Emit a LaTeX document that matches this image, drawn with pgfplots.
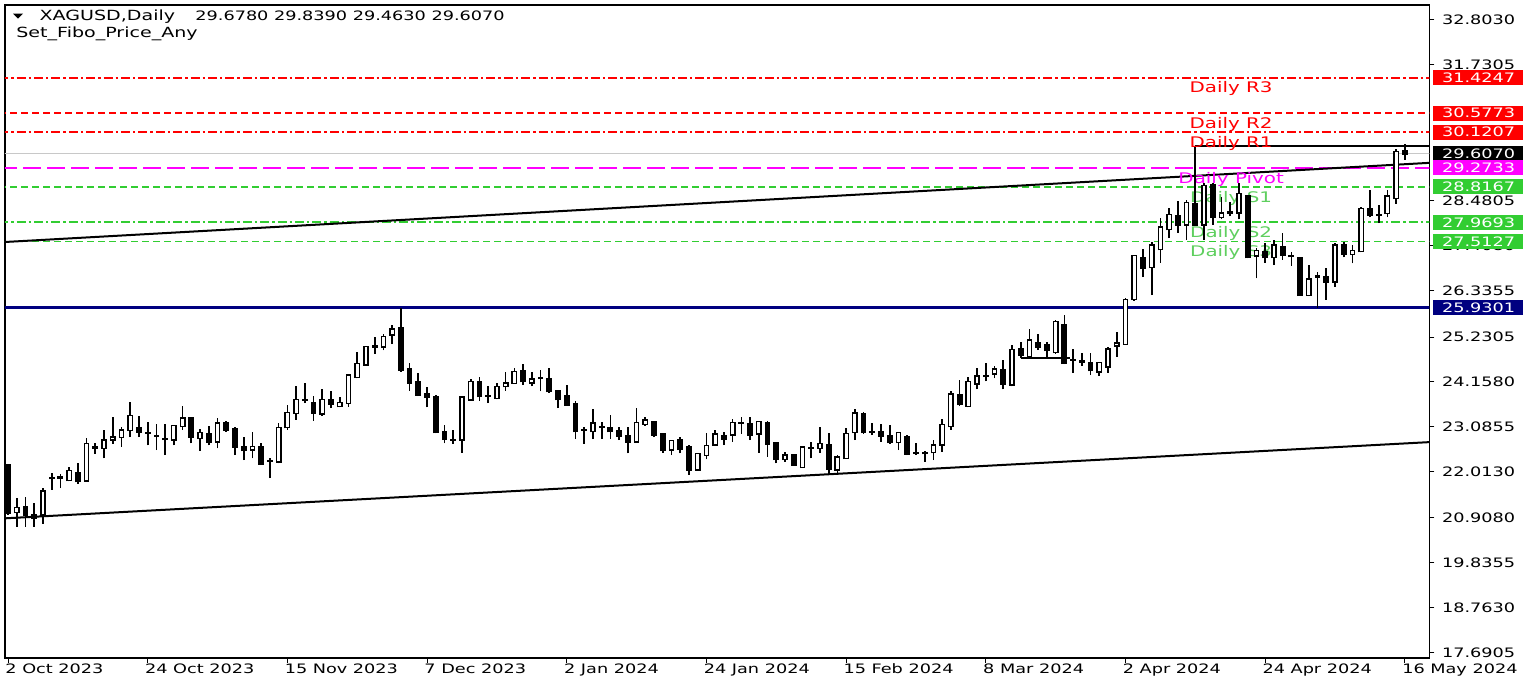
\documentclass[border=0pt]{standalone}
\usepackage{pgfplots}
\pgfplotsset{compat=1.18}
\usepackage{pgfplotstable}
\usepackage{graphicx}
\usepackage{fontspec}
\setmainfont{DejaVu Sans}
\newcommand\sx[1]{\scalebox{1.36}[1]{#1}}
\newcommand\fs{\fontsize{6.5pt}{7.8pt}\selectfont}
\newcommand\fh{\fontsize{7pt}{8.4pt}\selectfont}
\newcommand\fl{\fontsize{7.3pt}{8.8pt}\selectfont}
\definecolor{mtred}{HTML}{FF0000}
\definecolor{mtmag}{HTML}{FF00FF}
\definecolor{mtgreen}{HTML}{32CD32}
\definecolor{mtgtext}{HTML}{5FCF5F}
\definecolor{mtnavy}{HTML}{000080}
\definecolor{mtgray}{HTML}{C8C8C8}
\tikzset{box/.style={anchor=west, inner xsep=4.5pt, inner ysep=0pt, minimum height=7.5pt, text width=36pt, align=left, text=white, font=\fs}}

\pgfplotstableread{
i O H L C
0 22.17 22.18 20.98 21.02
1 21.04 21.38 20.70 21.16
2 21.18 21.40 20.70 20.98
3 20.98 21.27 20.70 20.90
4 20.98 21.62 20.77 21.55
5 21.85 21.99 21.58 21.87
6 21.87 21.97 21.62 21.88
7 21.80 22.12 21.78 22.04
8 21.99 22.21 21.72 21.78
9 21.79 22.81 21.79 22.68
10 22.58 22.71 22.44 22.60
11 22.57 23.01 22.33 22.77
12 22.77 23.31 22.68 22.84
13 22.84 23.09 22.61 23.01
14 23.00 23.69 22.84 23.35
15 23.05 23.35 22.84 22.96
16 22.95 23.21 22.64 22.94
17 22.88 23.15 22.53 22.87
18 22.80 23.15 22.41 22.79
19 22.77 23.13 22.64 23.11
20 23.09 23.59 23.01 23.29
21 23.29 23.30 22.69 22.84
22 22.81 23.03 22.52 22.95
23 22.92 23.11 22.64 22.72
24 22.73 23.29 22.57 23.17
25 23.19 23.23 22.97 23.00
26 23.03 23.07 22.41 22.61
27 22.61 22.84 22.29 22.52
28 22.53 22.97 22.33 22.61
29 22.61 22.71 22.17 22.20
30 22.28 22.33 21.86 22.27
31 22.25 23.17 22.21 23.07
32 23.07 23.61 23.01 23.42
33 23.41 24.06 23.25 23.73
34 23.73 24.13 23.65 23.72
35 23.65 23.81 23.23 23.42
36 23.39 23.98 23.35 23.73
37 23.73 23.93 23.53 23.63
38 23.57 23.79 23.55 23.66
39 23.65 24.32 23.57 24.32
40 24.27 24.88 24.24 24.60
41 24.56 25.00 24.54 25.00
42 25.00 25.22 24.83 25.01
43 24.99 25.30 24.91 25.24
44 25.28 25.52 25.06 25.42
45 25.44 25.92 24.40 24.44
46 24.48 24.62 23.95 24.14
47 24.17 24.36 23.82 23.85
48 23.87 24.03 23.55 23.79
49 23.81 23.85 22.93 22.95
50 22.97 23.13 22.69 22.79
51 22.78 23.01 22.68 22.77
52 22.77 23.81 22.47 23.79
53 23.73 24.22 23.71 24.17
54 24.17 24.28 23.71 23.81
55 23.83 24.05 23.65 23.82
56 23.77 24.14 23.74 24.05
57 24.05 24.40 23.95 24.13
58 24.13 24.48 24.11 24.40
59 24.43 24.59 24.09 24.17
60 24.14 24.40 24.05 24.22
61 24.25 24.44 23.93 24.24
62 24.24 24.48 23.90 23.93
63 23.95 23.95 23.53 23.74
64 23.82 24.09 23.61 23.61
65 23.63 23.71 22.79 22.97
66 23.02 23.07 22.68 23.01
67 22.97 23.50 22.79 23.17
68 23.09 23.21 22.79 23.08
69 23.07 23.37 22.79 22.97
70 23.00 23.09 22.77 22.87
71 22.88 23.07 22.45 22.73
72 22.73 23.53 22.73 23.19
73 23.15 23.31 23.11 23.25
74 23.21 23.21 22.84 22.89
75 22.92 22.92 22.47 22.52
76 22.53 22.77 22.41 22.76
77 22.77 22.85 22.45 22.55
78 22.61 22.65 21.94 22.06
79 22.06 22.45 22.04 22.44
80 22.41 22.93 22.31 22.63
81 22.65 23.01 22.63 22.91
82 22.87 22.97 22.65 22.80
83 22.89 23.27 22.73 23.19
84 23.18 23.31 22.92 23.19
85 23.15 23.31 22.77 22.89
86 22.92 23.23 22.47 23.21
87 23.19 23.23 22.37 22.68
88 22.71 22.73 22.21 22.31
89 22.31 22.49 22.25 22.41
90 22.41 22.41 22.17 22.17
91 22.12 22.61 22.10 22.60
92 22.57 22.73 22.33 22.58
93 22.57 23.07 22.47 22.69
94 22.65 22.93 21.94 22.07
95 22.06 22.41 21.94 22.36
96 22.33 23.05 22.33 22.92
97 22.95 23.50 22.77 23.41
98 23.39 23.45 22.92 22.95
99 22.97 23.17 22.89 22.96
100 22.97 23.15 22.73 22.87
101 22.87 23.13 22.68 22.71
102 22.71 22.97 22.53 22.95
103 22.85 22.89 22.41 22.44
104 22.47 22.69 22.41 22.46
105 22.46 22.52 22.25 22.45
106 22.47 22.77 22.29 22.65
107 22.65 23.27 22.49 23.14
108 23.09 23.93 23.01 23.87
109 23.85 24.21 23.59 23.62
110 23.58 24.27 23.55 24.17
111 24.11 24.48 23.98 24.30
112 24.30 24.62 24.17 24.29
113 24.35 24.54 24.24 24.46
114 24.44 24.67 23.98 24.11
115 24.09 25.04 24.05 24.93
116 24.96 25.12 24.72 24.80
117 24.76 25.41 24.75 25.16
118 25.10 25.30 24.92 25.00
119 25.04 25.12 24.76 24.91
120 24.86 25.64 24.83 25.60
121 25.52 25.76 24.58 24.60
122 24.69 24.94 24.38 24.68
123 24.65 24.86 24.54 24.64
124 24.62 24.86 24.32 24.43
125 24.40 24.64 24.30 24.62
126 24.52 24.99 24.38 24.94
127 25.02 25.36 24.76 25.08
128 25.06 26.16 25.04 26.13
129 26.13 27.19 26.10 27.17
130 27.11 27.33 26.66 26.87
131 26.90 27.50 26.23 27.43
132 27.32 28.07 27.00 27.85
133 27.80 28.30 27.59 28.15
134 28.12 28.49 27.72 27.91
135 27.91 28.50 27.55 28.44
136 28.41 29.78 27.88 27.91
137 27.91 28.90 27.55 28.84
138 28.86 28.92 27.91 28.09
139 28.09 28.58 28.04 28.19
140 28.20 28.46 28.11 28.21
141 28.20 28.92 28.04 28.66
142 28.60 28.62 27.11 27.13
143 27.17 27.35 26.63 27.29
144 27.27 27.47 27.01 27.13
145 27.13 27.55 26.95 27.43
146 27.39 27.71 27.07 27.19
147 27.16 27.27 26.93 27.15
148 27.11 27.13 26.22 26.23
149 26.23 26.95 26.21 26.61
150 26.67 26.79 25.93 26.68
151 26.67 26.87 26.12 26.55
152 26.55 27.47 26.43 27.43
153 27.43 27.51 27.13 27.21
154 27.21 27.43 26.99 27.29
155 27.27 28.33 27.25 28.30
156 28.30 28.74 28.09 28.15
157 28.15 28.38 27.95 28.14
158 28.19 28.73 28.09 28.60
159 28.54 29.71 28.41 29.66
160 29.678 29.839 29.463 29.607
}\candles

\begin{document}
\begin{tikzpicture}
\path[use as bounding box] (-2.5pt,-9.5pt) rectangle (764pt,329pt);
\begin{axis}[
  at={(0pt,0pt)}, anchor=south west,
  scale only axis, width=712.15pt, height=326.5pt,
  xmin=-0.344, xmax=162.8, ymin=17.564, ymax=33.160,
  axis line style={line width=0.7pt, black},
  tick style={line width=0.5pt, black},
  tick align=outside, major tick length=2.5pt,
  xtick pos=lower, ytick pos=right, yticklabel pos=right,
  xtick={0,16,32,48,64,80,96,112,128,144,160},
  xticklabels={\sx{2 Oct 2023},\sx{24 Oct 2023},\sx{15 Nov 2023},\sx{7 Dec 2023},\sx{2 Jan 2024},\sx{24 Jan 2024},\sx{15 Feb 2024},\sx{8 Mar 2024},\sx{2 Apr 2024},\sx{24 Apr 2024},\sx{16 May 2024}},
  xticklabel style={anchor=north west, inner sep=0pt, font=\fs, xshift=-1.5pt},
  ytick={17.6905,18.7630,19.8355,20.9080,22.0130,23.0855,24.1580,25.2305,26.3355,27.4080,28.4805,31.7305,32.8030},
  yticklabels={\sx{17.6905},\sx{18.7630},\sx{19.8355},\sx{20.9080},\sx{22.0130},\sx{23.0855},\sx{24.1580},\sx{25.2305},\sx{26.3355},\sx{27.4080},\sx{28.4805},\sx{31.7305},\sx{32.8030}},
  yticklabel style={anchor=west, inner sep=0pt, font=\fs, xshift=3.7pt},
]
% pivot levels
\addplot[mtred, line width=0.9pt, dash pattern=on 4.5pt off 1.5pt on 1.2pt off 1.5pt] coordinates {(-1,31.4247) (164,31.4247)};
\addplot[mtred, line width=0.9pt, dash pattern=on 3.5pt off 2pt] coordinates {(-1,30.5773) (164,30.5773)};
\addplot[mtred, line width=0.9pt, dash pattern=on 4.5pt off 1.5pt on 1.2pt off 1.5pt] coordinates {(-1,30.1207) (164,30.1207)};
\addplot[mtgray, line width=0.6pt] coordinates {(-1,29.607) (164,29.607)};
\addplot[mtmag, line width=0.9pt, dash pattern=on 9pt off 3pt] coordinates {(-1,29.2733) (164,29.2733)};
\addplot[mtgreen, line width=0.9pt, dash pattern=on 3.5pt off 2pt] coordinates {(-1,28.8167) (164,28.8167)};
\addplot[mtgreen, line width=0.9pt, dash pattern=on 4.5pt off 1.5pt on 1.2pt off 1.5pt] coordinates {(-1,27.9693) (164,27.9693)};
\addplot[mtgreen, line width=0.9pt, dash pattern=on 3.5pt off 2pt] coordinates {(-1,27.5127) (164,27.5127)};
\addplot[mtnavy, line width=1.75pt] coordinates {(-1,25.9301) (164,25.9301)};
% trend lines
\addplot[black, line width=1pt] coordinates {(-0.344,20.90) (162.8,22.72)};
\addplot[black, line width=1pt] coordinates {(-0.344,27.50) (162.8,29.39)};
\addplot[black, line width=1pt] coordinates {(136,29.79) (164,29.79)};
\addplot[black, line width=1pt] coordinates {(116,24.72) (121.6,24.72)};
% labels
\node[anchor=base, inner sep=0pt, text=mtred, font=\fl] at (axis cs:140.1,31.067) {\sx{Daily R3}};
\node[anchor=base, inner sep=0pt, text=mtred, font=\fl] at (axis cs:140.1,30.219) {\sx{Daily R2}};
\node[anchor=base, inner sep=0pt, text=mtred, font=\fl] at (axis cs:140.1,29.763) {\sx{Daily R1}};
\node[anchor=base, inner sep=0pt, text=mtmag, font=\fl] at (axis cs:140.1,28.903) {\sx{Daily Pivot}};
\node[anchor=base, inner sep=0pt, text=mtgtext, font=\fl] at (axis cs:140.1,28.447) {\sx{Daily S1}};
\node[anchor=base, inner sep=0pt, text=mtgtext, font=\fl] at (axis cs:140.1,27.599) {\sx{Daily S2}};
\node[anchor=base, inner sep=0pt, text=mtgtext, font=\fl] at (axis cs:140.1,27.143) {\sx{Daily S3}};
% candles: wicks, bodies, hollow up-bodies
\addplot[black, only marks, mark=text, text mark={}, error bars/.cd, y dir=plus, y explicit, error mark=none, error bar style={line width=0.85pt, black}]
  table[x=i, y=L, y error expr=\thisrow{H}-\thisrow{L}] {\candles};
\addplot[black, only marks, mark=text, text mark={}, error bars/.cd, y dir=plus, y explicit, error mark=none, error bar style={line width=2.9pt, black}]
  table[x=i, y expr={min(\thisrow{O},\thisrow{C})-0.02}, y error expr={abs(\thisrow{C}-\thisrow{O})+0.04}] {\candles};
\addplot[white, only marks, mark=text, text mark={}, restrict expr to domain={\thisrow{C}-\thisrow{O}}{0.03:100}, error bars/.cd, y dir=plus, y explicit, error mark=none, error bar style={line width=1.4pt, white}]
  table[x=i, y expr={\thisrow{O}+0.014}, y error expr={\thisrow{C}-\thisrow{O}-0.028}] {\candles};
\coordinate (b1) at (axis cs:162.8,31.4247);
\coordinate (b2) at (axis cs:162.8,30.5773);
\coordinate (b3) at (axis cs:162.8,30.1207);
\coordinate (b4) at (axis cs:162.8,29.6070);
\coordinate (b5) at (axis cs:162.8,29.2733);
\coordinate (b6) at (axis cs:162.8,28.8167);
\coordinate (b7) at (axis cs:162.8,27.9693);
\coordinate (b8) at (axis cs:162.8,27.5127);
\coordinate (b9) at (axis cs:162.8,25.9301);
\end{axis}
\node[box, fill=mtred] at ([xshift=1.7pt]b1) {\sx{31.4247}};
\node[box, fill=mtred] at ([xshift=1.7pt]b2) {\sx{30.5773}};
\node[box, fill=mtred] at ([xshift=1.7pt]b3) {\sx{30.1207}};
\node[box, fill=black] at ([xshift=1.7pt]b4) {\sx{29.6070}};
\node[box, fill=mtmag] at ([xshift=1.7pt]b5) {\sx{29.2733}};
\node[box, fill=mtgreen] at ([xshift=1.7pt]b6) {\sx{28.8167}};
\node[box, fill=mtgreen] at ([xshift=1.7pt]b7) {\sx{27.9693}};
\node[box, fill=mtgreen] at ([xshift=1.7pt]b8) {\sx{27.5127}};
\node[box, fill=mtnavy] at ([xshift=1.7pt]b9) {\sx{25.9301}};
% header
\fill[black] (4pt,322.25pt) -- (9pt,322.25pt) -- (6.5pt,319.75pt) -- cycle;
\node[anchor=base west, inner sep=0pt, font=\fh] at (17.15pt,318.65pt) {\sx{XAGUSD,Daily}};
\node[anchor=base west, inner sep=0pt, font=\fs] at (95pt,318.65pt) {\sx{29.6780 29.8390 29.4630 29.6070}};
\node[anchor=base west, inner sep=0pt, font=\fh] at (5.5pt,310.35pt) {\sx{Set\_Fibo\_Price\_Any}};
\end{tikzpicture}
\end{document}
